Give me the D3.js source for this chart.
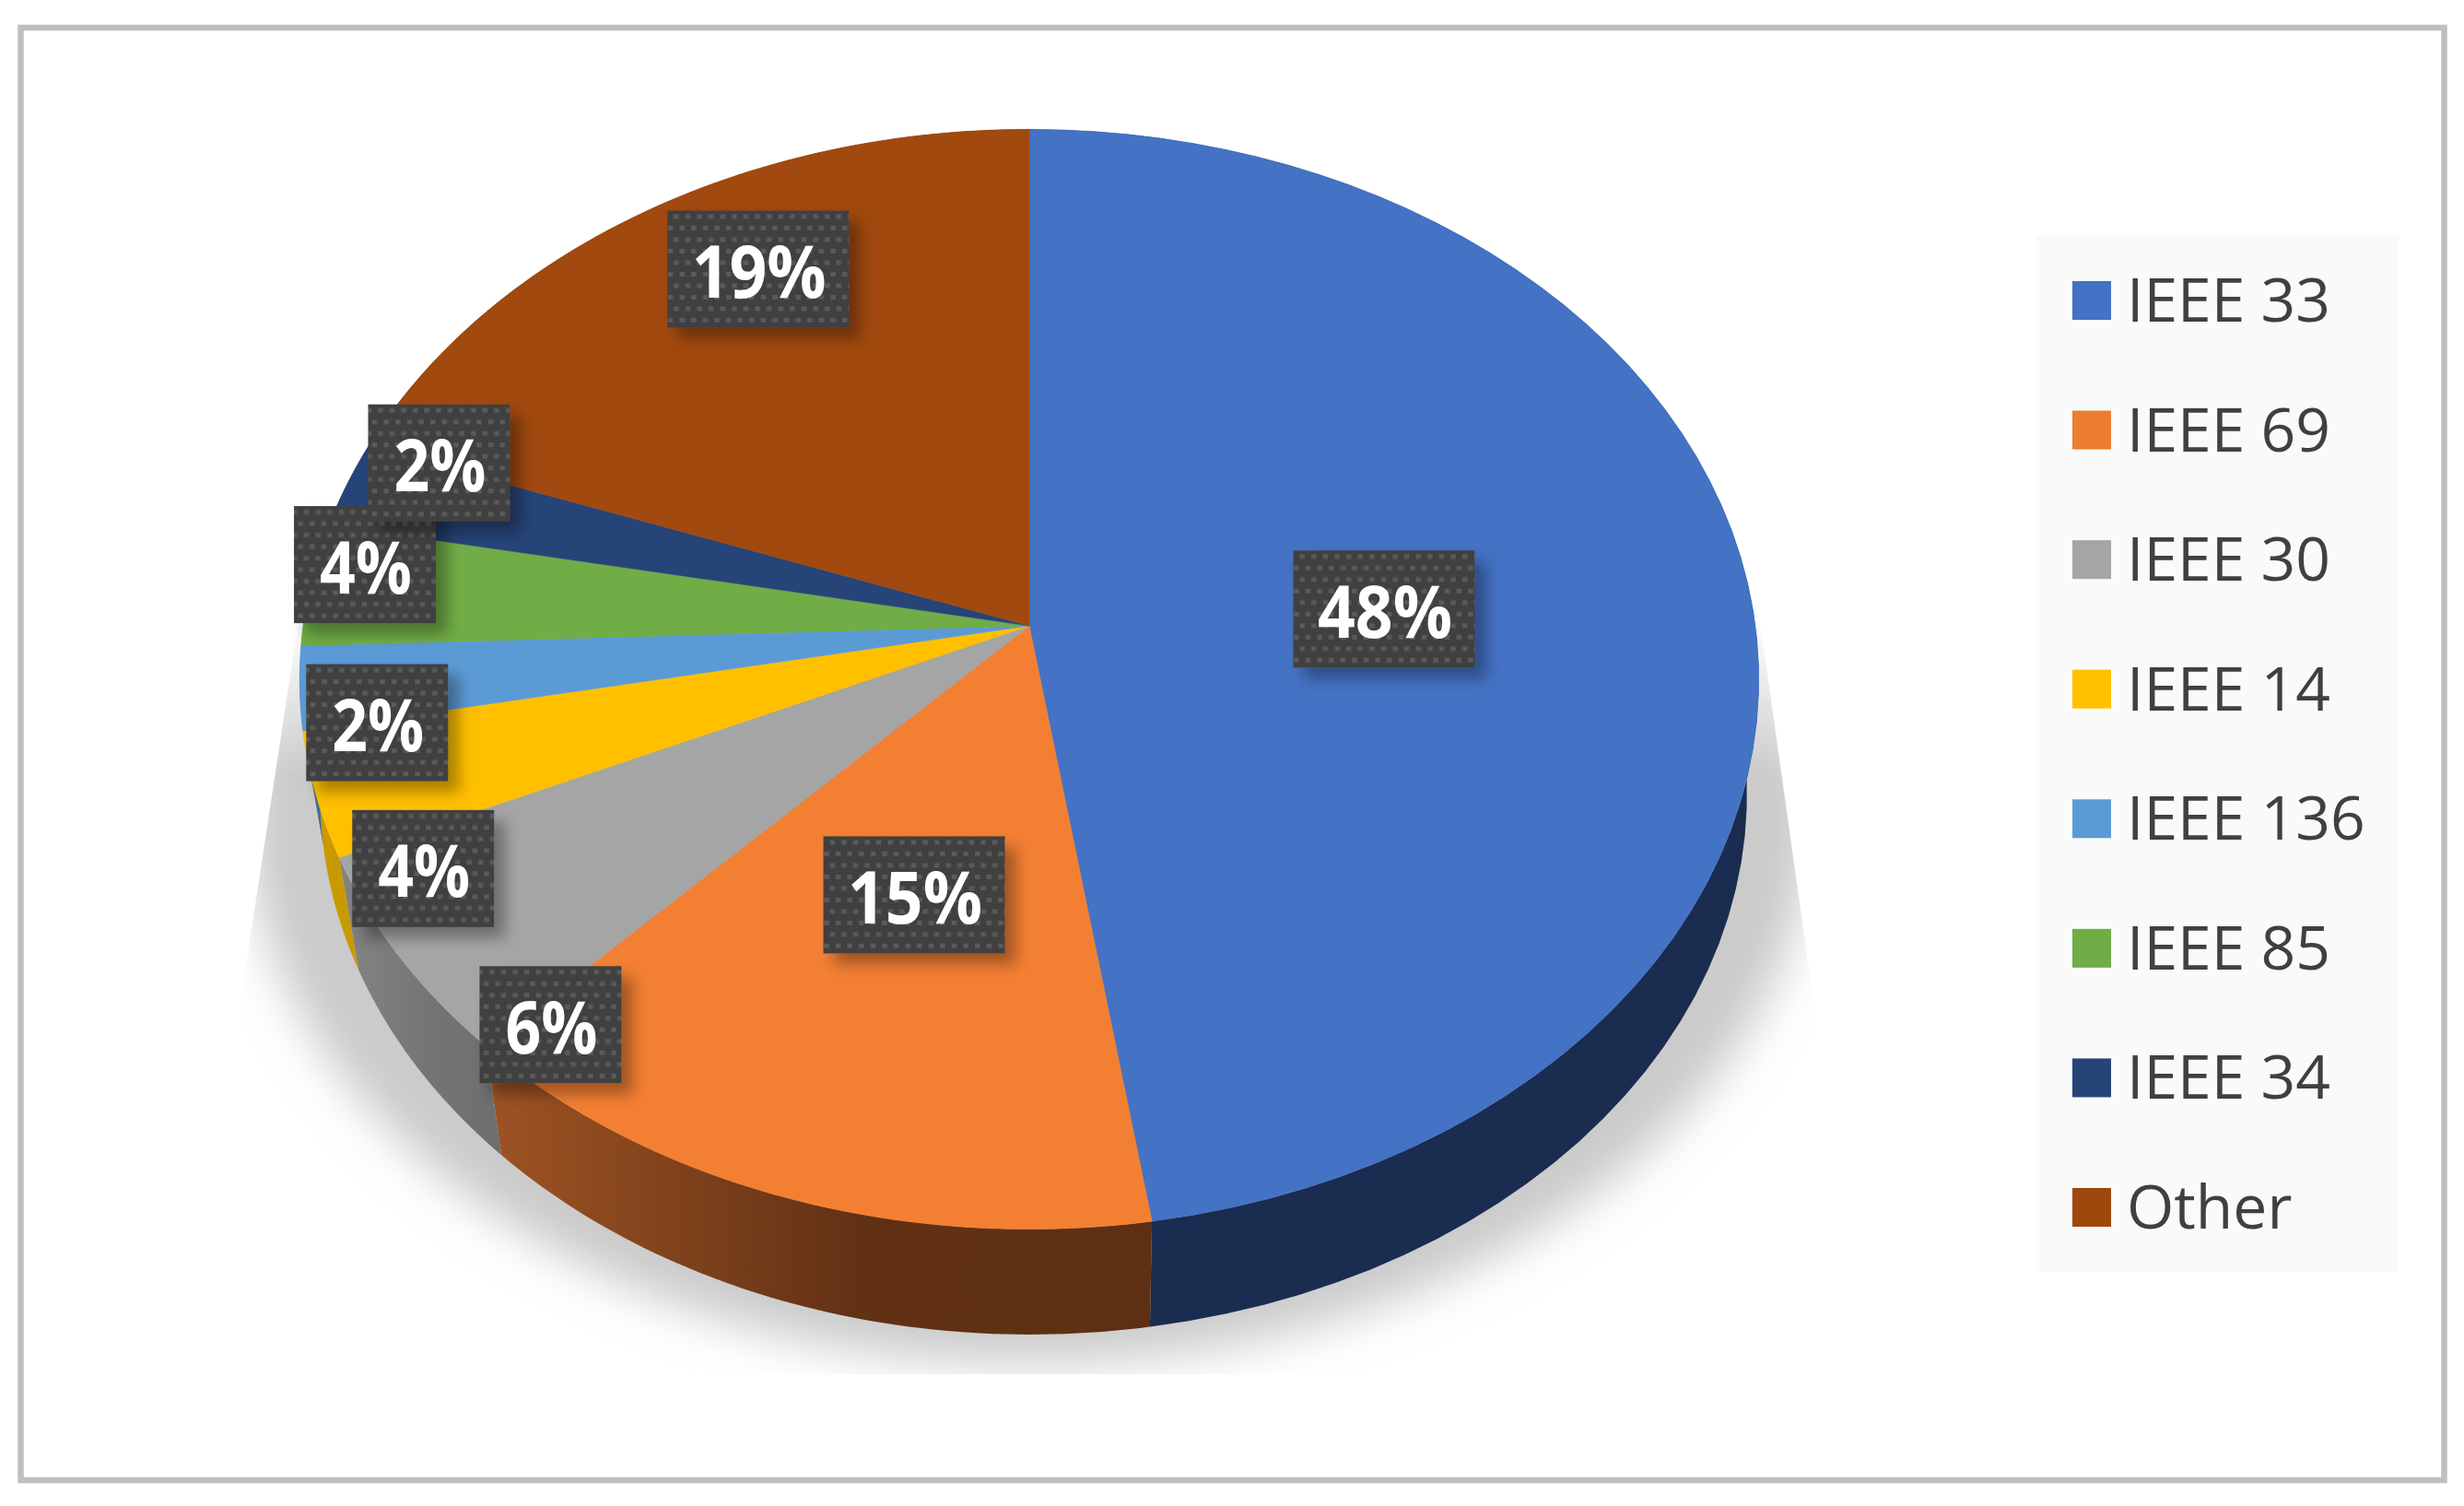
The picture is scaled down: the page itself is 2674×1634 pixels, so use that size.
<!DOCTYPE html>
<html><head><meta charset="utf-8">
<script src="https://cdn.jsdelivr.net/npm/d3@7"></script>
<style>html,body{margin:0;padding:0;background:#fff}svg{display:block}</style>
</head><body><div id="chart"></div>
<script>
const categories=["IEEE 33","IEEE 69","IEEE 30","IEEE 14","IEEE 136","IEEE 85","IEEE 34","Other"];
const shares=[47.56,14.69,6.05,3.67,2.45,3.6,2.5,19.48];
const percentLabels=["48%","15%","6%","4%","2%","4%","2%","19%"];
const topColors=["#4472C4","#F37F33","#A5A5A5","#FFC000","#5B9BD5","#70AD47","#264478","#A1490E"];
const legendColors=["#4472C4","#ED7D31","#A5A5A5","#FFC000","#5B9BD5","#70AD47","#264478","#9E480E"];
const wallColors=["#1A2C50",null,null,"#C99A00","#3E6E9C","#4C7A30","#1A2C50","#6A300A"];
// label placement in the pie plane: radius fraction, clockwise degrees from 12 o'clock
const labelRadius=[0.491,0.495,0.92,0.907,0.90,0.932,0.892,0.805];
const labelAngle=[86.4,197.8,222,241.9,258.8,277,290.2,330.3];

const W=2674,H=1634;
const svg=d3.select("#chart").append("svg").attr("width",W).attr("height",H).attr("viewBox",[0,0,W,H]);
const defs=svg.append("defs");

// perspective planes
const planeTop={cx:1117,y0:679,A:788,B:591,k:0.0971,rightStretch:1};
const planeBottom={cx:1117,y0:805,A:766,B:580.5,k:0.0971,rightStretch:1.012};
const project=(p,th,r=1)=>{
  const u=r*Math.sin(th),v=-r*Math.cos(th),w=1-p.k*v;
  return [p.cx+p.A*(u>0?p.rightStretch:1)*u/w,p.y0+p.B*v/w];
};
const line=d3.line();
const samples=(a,b)=>d3.range(0,61).map(i=>a+(b-a)*i/60);

const arcs=d3.pie().sort(null).value(d=>d)(shares);

// shadow
const blur=defs.append("filter").attr("id","sb").attr("x","-20%").attr("y","-20%").attr("width","140%").attr("height","140%");
blur.append("feGaussianBlur").attr("stdDeviation",25);
defs.append("clipPath").attr("id","sc").append("polygon").attr("points","323,680 1908,660 1970,1100 1975,1491 250,1491 259,1100");
const fadeGrad=defs.append("linearGradient").attr("id","fadeGrad").attr("gradientUnits","userSpaceOnUse").attr("x1",0).attr("x2",0).attr("y1",660).attr("y2",840);
fadeGrad.append("stop").attr("offset",0).attr("stop-color","#000");
fadeGrad.append("stop").attr("offset",1).attr("stop-color","#fff");
defs.append("mask").attr("id","fadeMask").attr("maskUnits","userSpaceOnUse").attr("x",0).attr("y",0).attr("width",W).attr("height",H)
  .append("rect").attr("width",W).attr("height",H).attr("fill","url(#fadeGrad)");
svg.append("g").attr("clip-path","url(#sc)").attr("mask","url(#fadeMask)").append("ellipse")
  .attr("cx",1117).attr("cy",880).attr("rx",850).attr("ry",600).attr("fill","#CBCBCB").attr("filter","url(#sb)");

// wall gradients
const grad=(id,x1,x2,stops)=>{
  const g=defs.append("linearGradient").attr("id",id).attr("gradientUnits","userSpaceOnUse").attr("x1",x1).attr("x2",x2).attr("y1",0).attr("y2",0);
  stops.forEach(([o,c])=>g.append("stop").attr("offset",o).attr("stop-color",c));
};
grad("wallOrange",545,1250,[[0,"#9C5223"],[0.55,"#623114"],[1,"#5E2F12"]]);
grad("wallGray",387,545,[[0,"#828282"],[0.5,"#747474"],[1,"#6E6E6E"]]);

// side walls
const walls=svg.append("g");
arcs.forEach((d,i)=>{
  const ts=samples(d.startAngle,d.endAngle);
  const pts=ts.map(t=>project(planeTop,t)).concat(ts.slice().reverse().map(t=>project(planeBottom,t)));
  const fill=i===1?"url(#wallOrange)":i===2?"url(#wallGray)":wallColors[i];
  walls.append("path").attr("d",line(pts)+"Z").attr("fill",fill);
});

// top face
const topFace=svg.append("g");
arcs.forEach((d,i)=>{
  const pts=[project(planeTop,0,0)].concat(samples(d.startAngle,d.endAngle).map(t=>project(planeTop,t)));
  topFace.append("path").attr("d",line(pts)+"Z").attr("fill",topColors[i]).attr("stroke",topColors[i]).attr("stroke-width",0.6);
});

// labels
const dots=defs.append("pattern").attr("id","dots").attr("patternUnits","userSpaceOnUse").attr("width",12.6).attr("height",25);
dots.append("rect").attr("width",12.6).attr("height",25).attr("fill","#404040");
dots.append("rect").attr("x",3).attr("y",3).attr("width",5.5).attr("height",5).attr("fill","#5A5A5A");
dots.append("rect").attr("x",9.3).attr("y",15.5).attr("width",3.3).attr("height",5).attr("fill","#5A5A5A");
dots.append("rect").attr("x",0).attr("y",15.5).attr("width",2.2).attr("height",5).attr("fill","#5A5A5A");
const ds=defs.append("filter").attr("id","ds").attr("x","-20%").attr("y","-20%").attr("width","150%").attr("height","150%");
ds.append("feDropShadow").attr("dx",12).attr("dy",12).attr("stdDeviation",8).attr("flood-color","#000").attr("flood-opacity",0.33);

const labels=svg.append("g");
percentLabels.forEach((t,i)=>{
  const [x,y]=project(planeTop,labelAngle[i]*Math.PI/180,labelRadius[i]);
  const w=t.length===3?197:154,h=127;
  const g=labels.append("g").attr("transform",`translate(${x},${y})`);
  g.append("rect").attr("x",-w/2).attr("y",-h/2).attr("width",w).attr("height",h).attr("fill","url(#dots)").attr("filter","url(#ds)");
  g.append("text").attr("text-anchor","middle").attr("x",1).attr("y",31).attr("fill","#fff")
    .attr("font-family","'Open Sans',sans-serif").attr("font-weight",700).attr("font-size",78)
    .attr("textLength",t.length===3?146:100).attr("lengthAdjust","spacingAndGlyphs").text(t);
});

// legend
const legend=svg.append("g");
legend.append("rect").attr("x",2210).attr("y",255).attr("width",393).attr("height",1125).attr("fill","#FAFAFA");
const yL=d3.scalePoint().domain(categories).range([326,1310]);
categories.forEach((c,i)=>{
  const y=yL(c);
  legend.append("rect").attr("x",2249).attr("y",y-21).attr("width",42).attr("height",42).attr("fill",legendColors[i]);
  legend.append("text").attr("x",2308).attr("y",y+23).attr("fill","#404040")
    .attr("font-family","'Open Sans',sans-serif").attr("font-size",66).text(c);
});

// frame
svg.append("rect").attr("x",22.5).attr("y",30).attr("width",2630).attr("height",1576).attr("fill","none").attr("stroke","#BFBFBF").attr("stroke-width",6.5);
</script></body></html>
